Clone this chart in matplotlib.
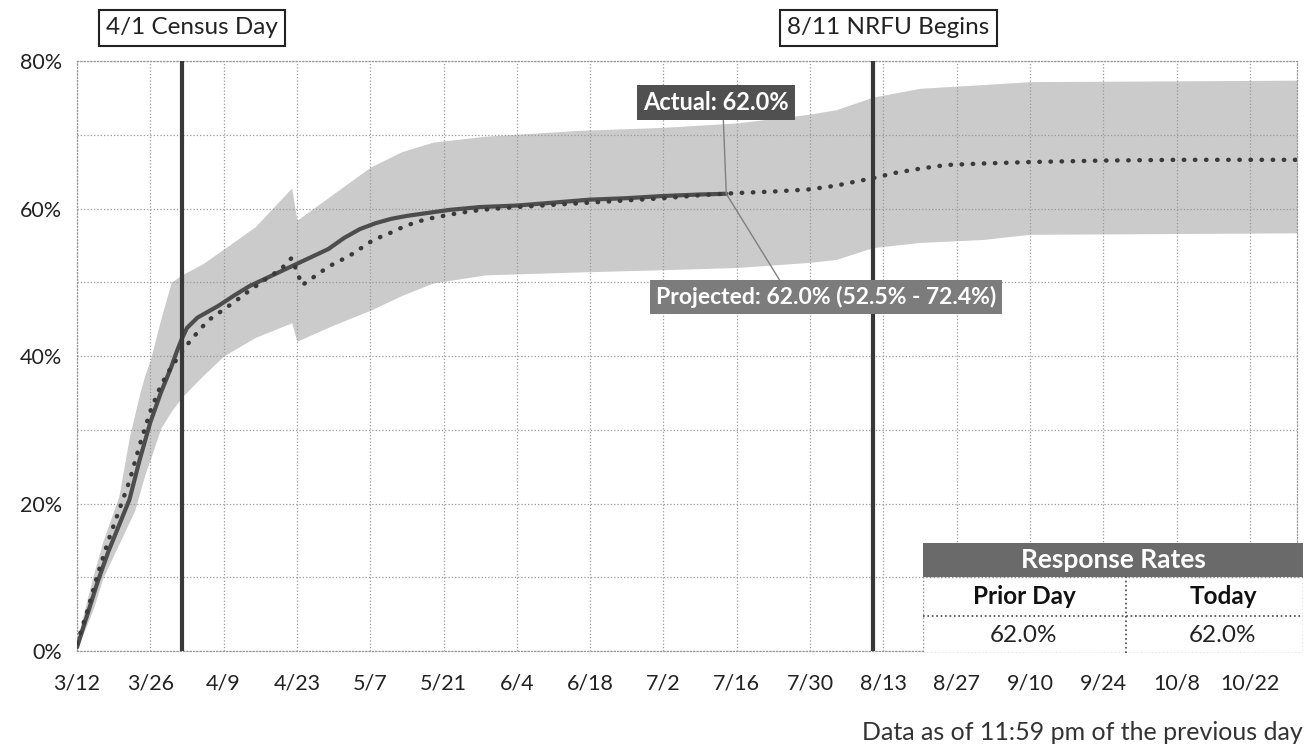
import numpy as np
import pandas as pd
import matplotlib
matplotlib.use('Agg')
import matplotlib.pyplot as plt
import matplotlib.transforms as mtransforms
from matplotlib.patches import Rectangle

plt.rcParams['font.family'] = ['Lato', 'DejaVu Sans']

# actual self-response rate (%)
act_dates = ['3/12', '3/14', '3/16', '3/18', '3/20', '3/22', '3/24', '3/26', '3/28', '3/30',
             '3/31', '4/1', '4/2', '4/4', '4/8', '4/11', '4/14', '4/17', '4/20', '4/23',
             '4/26', '4/29', '5/2', '5/5', '5/8', '5/11', '5/14', '5/18', '5/22', '5/28',
             '6/4', '6/11', '6/18', '6/25', '7/2', '7/9', '7/14']
act_vals = [0.5, 5.0, 9.5, 13.5, 17.0, 20.5, 26.0, 31.0, 35.0, 38.5,
            40.5, 42.3, 43.8, 45.2, 46.8, 48.2, 49.5, 50.5, 51.5, 52.5,
            53.5, 54.5, 56.0, 57.2, 58.0, 58.6, 59.0, 59.4, 59.8, 60.2,
            60.4, 60.8, 61.2, 61.4, 61.7, 61.9, 62.0]

# projected rate (%)
proj_dates = ['3/12', '3/14', '3/16', '3/18', '3/20', '3/22', '3/24', '3/26', '3/28', '3/30',
              '3/31', '4/2', '4/4', '4/6', '4/8', '4/11', '4/14', '4/17', '4/20', '4/22',
              '4/24', '4/26', '4/28', '4/30', '5/2', '5/4', '5/6', '5/8', '5/10', '5/12',
              '5/14', '5/16', '5/18', '5/21', '5/24', '5/28', '6/4', '6/11', '6/18', '6/25',
              '7/2', '7/9', '7/16', '7/23', '7/30', '8/4', '8/8', '8/11', '8/15', '8/20',
              '8/25', '9/1', '9/10', '9/24', '10/8', '10/31']
proj_vals = [1.0, 5.5, 10.5, 15.0, 19.0, 23.0, 28.0, 32.5, 36.0, 38.5,
             39.5, 41.5, 43.2, 44.8, 45.8, 47.3, 48.9, 50.4, 51.8, 53.3,
             49.6, 50.6, 51.6, 52.5, 53.2, 54.0, 55.0, 55.9, 56.4, 57.1,
             57.7, 58.2, 58.6, 59.0, 59.4, 59.8, 60.2, 60.5, 60.8, 61.1,
             61.4, 61.8, 62.1, 62.3, 62.6, 63.1, 63.7, 64.1, 64.8, 65.4,
             65.9, 66.1, 66.3, 66.5, 66.6, 66.6]

# projection range (%)
band_dates = ['3/12', '3/15', '3/17', '3/20', '3/22', '3/23', '3/24', '3/25', '3/26', '3/28',
              '3/30', '4/1', '4/5', '4/9', '4/15', '4/22', '4/23', '4/30', '5/7', '5/13',
              '5/19', '5/29', '6/16', '7/2', '7/16', '7/30', '8/4', '8/11', '8/20', '9/1',
              '9/10', '10/31']
band_low = [0.3, 5.5, 10.0, 14.5, 17.5, 19.0, 21.5, 24.0, 26.0, 30.2,
            32.5, 34.4, 37.3, 40.0, 42.5, 44.5, 42.0, 44.2, 46.2, 48.2,
            49.9, 51.0, 51.4, 51.7, 52.0, 52.7, 53.1, 54.7, 55.4, 55.8,
            56.5, 56.7]
band_high = [1.5, 10.0, 15.0, 21.0, 29.0, 32.0, 35.0, 37.5, 39.5, 45.0,
             50.0, 51.0, 52.5, 54.5, 57.5, 62.8, 58.4, 62.0, 65.6, 67.7,
             69.0, 69.8, 70.6, 71.0, 71.6, 72.8, 73.4, 75.1, 76.3, 76.8,
             77.2, 77.4]

tick_labels = ['3/12', '3/26', '4/9', '4/23', '5/7', '5/21', '6/4', '6/18', '7/2',
               '7/16', '7/30', '8/13', '8/27', '9/10', '9/24', '10/8', '10/22']


def to_dt(days):
    return pd.to_datetime(['2020/' + d for d in days], format='%Y/%m/%d')


fig = plt.figure(figsize=(13.11, 7.45), dpi=100)
ax = fig.add_axes([77 / 1311, 1 - 651 / 745, 1220 / 1311, 590 / 745])

ax.fill_between(to_dt(band_dates), band_low, band_high, color='#cbcbcb', lw=0, zorder=1)
ax.plot(to_dt(act_dates), act_vals, color='#4d4d4d', lw=3.0, solid_capstyle='round', zorder=3)
ax.plot(to_dt(proj_dates), proj_vals, color='#3a3a3a', lw=3.2,
        linestyle=(0, (0.1, 2.4)), dash_capstyle='round', zorder=4)

for d in to_dt(['4/1', '8/11']):
    ax.axvline(d, color='#383838', lw=3, zorder=5)

start = pd.Timestamp('2020-03-12')
ax.set_xlim(start, start + pd.Timedelta(days=233))
ax.set_ylim(0, 80)
ax.set_xticks(to_dt(tick_labels))
ax.set_xticklabels(tick_labels)
ax.set_yticks([0, 20, 40, 60, 80])
ax.set_yticklabels(['0%', '20%', '40%', '60%', '80%'])
ax.set_yticks([10, 30, 50, 70], minor=True)
ax.tick_params(axis='both', which='both', length=0, labelsize=15.5, colors='#222222')
ax.tick_params(axis='y', pad=11)
ax.tick_params(axis='x', pad=16)
ax.grid(True, which='both', color='#999999', linestyle=':', lw=0.9)
for s in ax.spines.values():
    s.set_linestyle(':')
    s.set_color('#999999')
    s.set_linewidth(0.9)

# event labels above the plot
trans = mtransforms.blended_transform_factory(ax.transData, fig.transFigure)
for d, txt, off in zip(to_dt(['4/1', '8/11']), ['4/1 Census Day', '8/11 NRFU Begins'], [2, 3]):
    ax.text(d + pd.Timedelta(days=off), 1 - 28 / 745, txt, transform=trans, ha='center', va='center',
            fontsize=17.5, color='#222222',
            bbox=dict(boxstyle='square,pad=0.3', fc='white', ec='#222222', lw=1.5))

end_pt = (to_dt(['7/14'])[0], 62.0)
ax.annotate('Actual: 62.0%', xy=end_pt, xytext=(to_dt(['7/12'])[0], 74.4),
            ha='center', va='center', fontsize=17, fontweight='bold', color='white',
            bbox=dict(boxstyle='square,pad=0.25', fc='#505050', ec='none'),
            arrowprops=dict(arrowstyle='-', color='#808080', lw=1, relpos=(0.55, 0.0),
                            shrinkA=0, shrinkB=0), zorder=6)
ax.annotate('Projected: 62.0% (52.5% - 72.4%)', xy=end_pt, xytext=(to_dt(['8/2'])[0], 48.0),
            ha='center', va='center', fontsize=16.5, fontweight='bold', color='white',
            bbox=dict(boxstyle='square,pad=0.25', fc='#7c7c7c', ec='none'),
            arrowprops=dict(arrowstyle='-', color='#808080', lw=1, relpos=(0.375, 1.0),
                            shrinkA=0, shrinkB=0), zorder=6)

# response rate table
tax = fig.add_axes([923 / 1311, 1 - 653 / 745, 380 / 1311, 110 / 745])
tax.set_xlim(0, 380)
tax.set_ylim(0, 110)
tax.axis('off')
tax.add_patch(Rectangle((0, 0), 380, 76, fc='white', ec='#888888', ls=':', lw=1))
tax.add_patch(Rectangle((0, 76), 380, 34, fc='#6a6a6a', ec='none'))
tax.plot([203, 203], [0, 76], color='#444444', ls=':', lw=1.2)
tax.plot([0, 380], [37, 37], color='#444444', ls=':', lw=1.2)
tax.text(190, 93, 'Response Rates', ha='center', va='center', fontsize=19,
         fontweight='bold', color='white')
tax.text(101, 56, 'Prior Day', ha='center', va='center', fontsize=17.5, fontweight='bold', color='#111111')
tax.text(300, 56, 'Today', ha='center', va='center', fontsize=17.5, fontweight='bold', color='#111111')
tax.text(101, 18, '62.0%', ha='center', va='center', fontsize=17.5, color='#222222')
tax.text(300, 18, '62.0%', ha='center', va='center', fontsize=17.5, color='#222222')

fig.text(1303 / 1311, 1 - 733 / 745, 'Data as of 11:59 pm of the previous day',
         ha='right', va='center', fontsize=18, color='#333333')

fig.savefig('out.png', dpi=100)
